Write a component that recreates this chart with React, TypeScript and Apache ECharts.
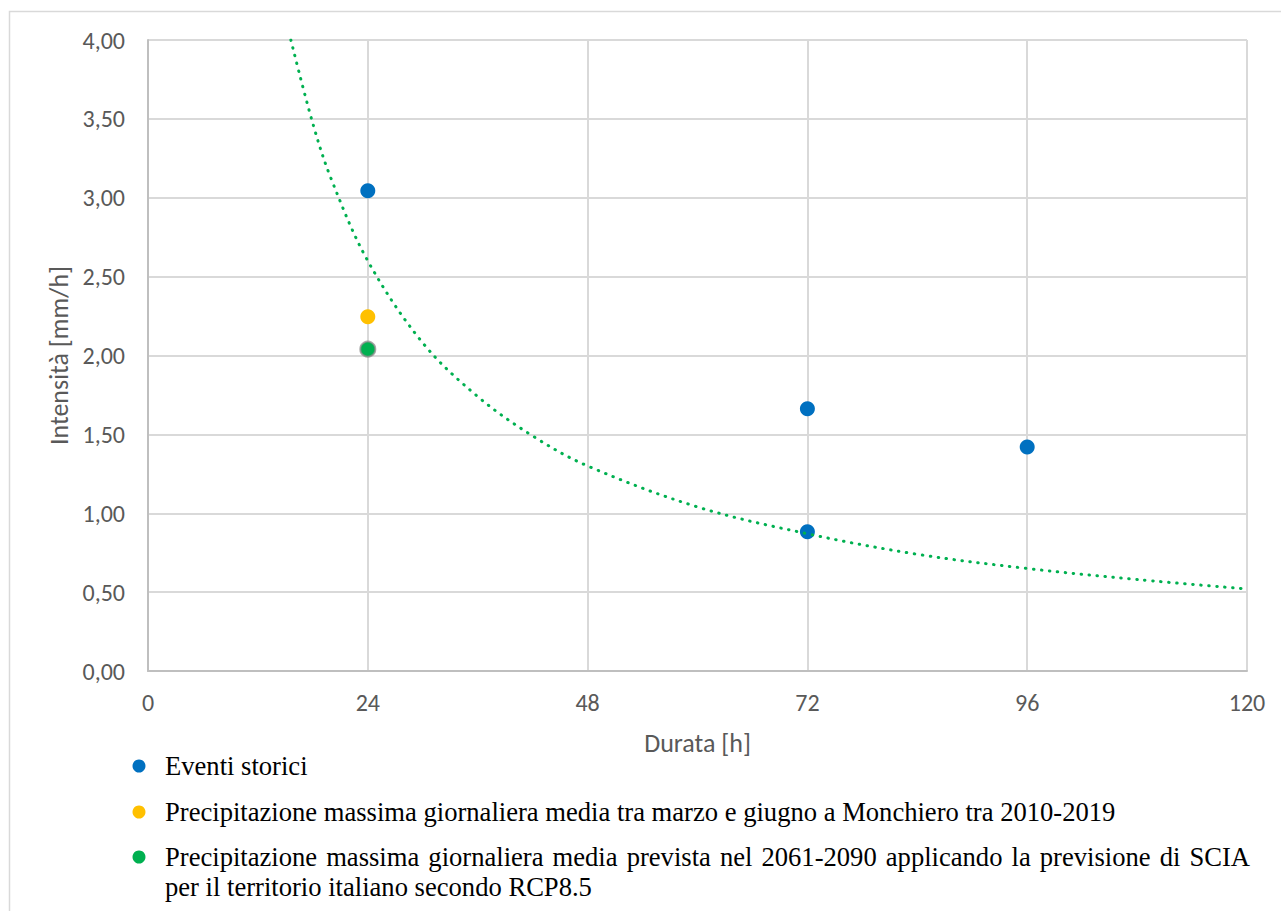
import React, { useEffect, useRef } from "react";
import * as echarts from "echarts";

// ---- data ----
const xTicks = [0, 24, 48, 72, 96, 120];
const yTicks = [0, 0.5, 1, 1.5, 2, 2.5, 3, 3.5, 4];

const storiciX = [24, 72, 72, 96];
const storiciY = [3.045, 1.663, 0.883, 1.42];

const monchieroX = [24];
const monchieroY = [2.245];

const scenarioX = [24];
const scenarioY = [2.04];

// dotted trend curve
const trendX = [15.6, 18, 20, 24, 30, 36, 42, 48, 60, 72, 84, 96, 108, 120];
const trendY = [4.0, 3.47, 3.12, 2.6, 2.08, 1.74, 1.49, 1.3, 1.04, 0.87, 0.74, 0.65, 0.58, 0.52];

const legendLabels = [
  "Eventi storici",
  "Precipitazione massima giornaliera media tra marzo e giugno a Monchiero tra 2010-2019",
  "Precipitazione massima giornaliera media prevista nel 2061-2090 applicando la previsione di SCIA per il territorio italiano secondo RCP8.5",
];
const seriesColors = ["#0070c0", "#ffc000", "#00b050"];
const xName = "Durata [h]";
const yName = "Intensità [mm/h]";

const AXIS_FONT = "Carlito, Lato, 'Open Sans', sans-serif";
const LEGEND_FONT = "'Liberation Serif', 'Times New Roman', serif";

function zip(xs: number[], ys: number[]) {
  return xs.map((x, i) => [x, ys[i]]);
}

export default function App() {
  const ref = useRef<HTMLDivElement>(null);

  useEffect(() => {
    if (!ref.current) return;
    const chart = echarts.init(ref.current, undefined, { renderer: "svg" });

    // legend layout
    const legendFontSize = 26.6;
    const legendX = 165;
    const legendMaxW = 1250 - 165;
    const canvas = document.createElement("canvas");
    const ctx = canvas.getContext("2d")!;
    ctx.font = `${legendFontSize}px "Liberation Serif"`;
    const spaceW = ctx.measureText(" ").width;

    const itemCenters = [766, 812, 857];
    const lineGap = 30;
    const graphics: any[] = [
      {
        type: "rect",
        z: -10,
        shape: { x: 9.5, y: 11.5, width: 1400, height: 1000 },
        style: { fill: "none", stroke: "#d9d9d9", lineWidth: 1.5 },
      },
    ];

    legendLabels.forEach((label, i) => {
      const cy = itemCenters[i];
      graphics.push({
        type: "circle",
        shape: { cx: 139, cy, r: 6.5 },
        style: { fill: seriesColors[i] },
      });
      // greedy wrap
      const words = label.split(" ");
      const lines: string[][] = [];
      let cur: string[] = [];
      let curW = 0;
      words.forEach((w) => {
        const ww = ctx.measureText(w).width;
        const add = cur.length ? spaceW + ww : ww;
        if (cur.length && curW + add > legendMaxW) {
          lines.push(cur);
          cur = [w];
          curW = ww;
        } else {
          cur.push(w);
          curW += add;
        }
      });
      if (cur.length) lines.push(cur);

      lines.forEach((ln, li) => {
        const y = cy + li * lineGap;
        const isLast = li === lines.length - 1;
        if (isLast) {
          graphics.push({
            type: "text",
            x: legendX,
            y,
            style: {
              text: ln.join(" "),
              font: `${legendFontSize}px ${LEGEND_FONT}`,
              fill: "#000",
              verticalAlign: "middle",
              align: "left",
            },
          });
        } else {
          const widths = ln.map((w) => ctx.measureText(w).width);
          const total = widths.reduce((a, b) => a + b, 0);
          const gap = (legendMaxW - total) / (ln.length - 1);
          let x = legendX;
          ln.forEach((w, wi) => {
            graphics.push({
              type: "text",
              x,
              y,
              style: {
                text: w,
                font: `${legendFontSize}px ${LEGEND_FONT}`,
                fill: "#000",
                verticalAlign: "middle",
                align: "left",
              },
            });
            x += widths[wi] + gap;
          });
        }
      });
    });

    const markerBase = {
      type: "scatter",
      symbol: "circle",
      symbolSize: 15,
      z: 2,
    };

    chart.setOption({
      animation: false,
      backgroundColor: "#ffffff",
      grid: { left: 148, right: 34, top: 40, bottom: 240, containLabel: false },
      xAxis: {
        type: "value",
        min: xTicks[0],
        max: xTicks[xTicks.length - 1],
        interval: xTicks[1] - xTicks[0],
        name: xName,
        nameLocation: "middle",
        nameGap: 59,
        nameTextStyle: { fontFamily: AXIS_FONT, fontSize: 26, color: "#595959" },
        axisLine: { show: true, lineStyle: { color: "#bfbfbf", width: 2 } },
        axisTick: { show: false },
        axisLabel: { fontFamily: AXIS_FONT, fontSize: 24, color: "#595959", margin: 19 },
        splitLine: { show: true, lineStyle: { color: "#d9d9d9", width: 2 } },
      },
      yAxis: {
        type: "value",
        min: yTicks[0],
        max: yTicks[yTicks.length - 1],
        interval: yTicks[1] - yTicks[0],
        name: yName,
        nameLocation: "middle",
        nameGap: 76,
        nameTextStyle: { fontFamily: AXIS_FONT, fontSize: 26, color: "#595959" },
        axisLine: { show: true, lineStyle: { color: "#bfbfbf", width: 2 } },
        axisTick: { show: false },
        axisLabel: {
          fontFamily: AXIS_FONT,
          fontSize: 24,
          color: "#595959",
          margin: 23,
          formatter: (v: number) => v.toFixed(2).replace(".", ","),
        },
        splitLine: { show: true, lineStyle: { color: "#d9d9d9", width: 2 } },
      },
      series: [
        {
          ...markerBase,
          name: legendLabels[0],
          data: zip(storiciX, storiciY),
          itemStyle: { color: seriesColors[0], opacity: 1 },
        },
        {
          ...markerBase,
          name: legendLabels[1],
          data: zip(monchieroX, monchieroY),
          itemStyle: { color: seriesColors[1], opacity: 1 },
        },
        {
          ...markerBase,
          name: legendLabels[2],
          data: zip(scenarioX, scenarioY),
          itemStyle: {
            color: seriesColors[2],
            opacity: 1,
            borderColor: "rgba(140,140,140,0.75)",
            borderWidth: 2,
          },
        },
        {
          type: "line",
          name: "trend",
          data: zip(trendX, trendY),
          smooth: 0.35,
          showSymbol: false,
          symbol: "none",
          z: 5,
          lineStyle: {
            color: "#00b050",
            width: 3,
            type: [0.5, 7.5],
            cap: "round",
          },
        },
      ],
      graphic: graphics,
    });

    return () => chart.dispose();
  }, []);

  return (
    <div
      ref={ref}
      style={{
        position: "fixed",
        left: 0,
        top: 0,
        width: 1281,
        height: 911,
        background: "#fff",
      }}
    />
  );
}
